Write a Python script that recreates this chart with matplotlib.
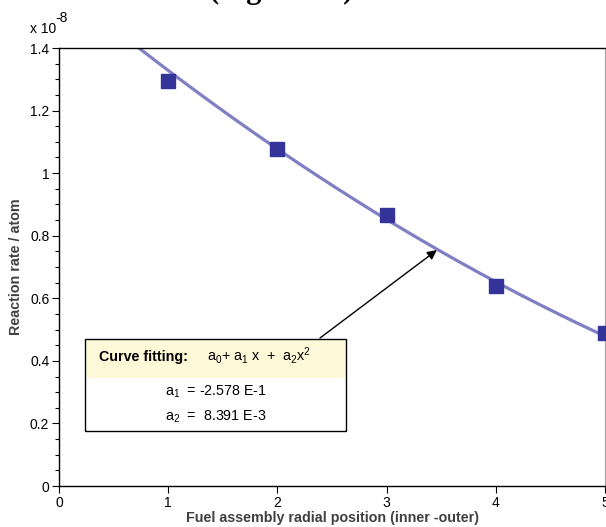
import numpy as np
import matplotlib
matplotlib.use("Agg")
import matplotlib.pyplot as plt
from matplotlib.patches import Rectangle
from matplotlib.ticker import MultipleLocator

plt.rcParams['font.family'] = ['Liberation Sans', 'DejaVu Sans']
plt.rcParams['mathtext.fontset'] = 'custom'
plt.rcParams['mathtext.rm'] = 'Liberation Sans'
plt.rcParams['mathtext.it'] = 'Liberation Sans'

positions = [1, 2, 3, 4, 5]
rates = [1.296, 1.078, 0.866, 0.638, 0.489]
# fitted curve coefficients (a0, a1, a2) as drawn in the chart
fit_coeffs = [1.605, -0.2897, 0.0129]
x_ticks = [0, 1, 2, 3, 4, 5]
y_ticks = [0, 0.2, 0.4, 0.6, 0.8, 1.0, 1.2, 1.4]
y_tick_labels = ['0', '0.2', '0.4', '0.6', '0.8', '1', '1.2', '1.4']
a1_text = "-2.578 E-1"
a2_text = "8.391 E-3"

W, H = 606, 527
fig = plt.figure(figsize=(W / 100, H / 100), dpi=100)
L, R, T, B = 59, 605, 48, 486
ax = fig.add_axes([L / W, 1 - B / H, (R - L) / W, (B - T) / H])

xs = np.linspace(0, 5, 300)
ys = fit_coeffs[0] + fit_coeffs[1] * xs + fit_coeffs[2] * xs ** 2
ax.plot(xs, ys, color='#7f7fc4', lw=2.3, zorder=2)
ax.plot(positions, rates, 's', color='#333399', ms=10, zorder=3, clip_on=False)

ax.set_xlim(0, 5)
ax.set_ylim(0, 1.4)
ax.set_xticks(x_ticks)
ax.set_yticks(y_ticks)
ax.set_yticklabels(y_tick_labels)
ax.yaxis.set_minor_locator(MultipleLocator(0.05))
ax.tick_params(axis='both', which='major', direction='out', length=5, width=0.8,
               labelsize=10, pad=2)
ax.tick_params(axis='y', which='minor', direction='out', length=3, width=0.8)
ax.spines['right'].set_color('#a0a0a0')
for s in ['left', 'bottom', 'top']:
    ax.spines[s].set_linewidth(1.0)
    ax.spines[s].set_color('black')

ax.set_xlabel('Fuel assembly radial position (inner -outer)', fontsize=10.3,
              fontweight='bold', color='#404040', labelpad=1)
ax.set_ylabel('Reaction rate / atom', fontsize=10.3, fontweight='bold',
              color='#404040', labelpad=5)

fig.text(30 / W, 1 - 33 / H, 'x 10', fontsize=10, ha='left', va='baseline')
fig.text(55 / W, 1 - 22 / H, '-8', fontsize=10, ha='left', va='baseline')

# Title, mostly cut off at the top
fig.text(281 / W, 1 + 2 / H, '(Figure 10)', fontsize=22, fontweight='bold',
         family='Liberation Serif', ha='center', va='baseline')

# Annotation arrow
ax.annotate('', xy=(3.46, 0.754), xytext=(2.39, 0.473),
            arrowprops=dict(arrowstyle='-|>', color='black', lw=1.0,
                            mutation_scale=14, shrinkA=0, shrinkB=0), zorder=4)

# Fitting box
bx0, bx1, by0, by1, bym = 85, 346, 339, 431, 378
fig.patches.append(Rectangle((bx0 / W, 1 - bym / H), (bx1 - bx0) / W, (bym - by0) / H,
                             transform=fig.transFigure, facecolor='#fdf8d8',
                             edgecolor='none', zorder=5))
fig.patches.append(Rectangle((bx0 / W, 1 - by1 / H), (bx1 - bx0) / W, (by1 - bym) / H,
                             transform=fig.transFigure, facecolor='white',
                             edgecolor='none', zorder=5))
fig.patches.append(Rectangle((bx0 / W, 1 - by1 / H), (bx1 - bx0) / W, (by1 - by0) / H,
                             transform=fig.transFigure, facecolor='none',
                             edgecolor='black', lw=1.0, zorder=6))
fig.text(99 / W, 1 - 361 / H, 'Curve fitting:', fontsize=10.3, fontweight='bold',
         va='baseline', zorder=7)
fig.text(207 / W, 1 - 361 / H,
         r'a$_\mathregular{0}$+ a$_\mathregular{1}$ x  +  a$_\mathregular{2}$x$^\mathregular{2}$',
         fontsize=10.3, va='baseline', zorder=7)
fig.text(165 / W, 1 - 396 / H, r'a$_\mathregular{1}$  = ' + a1_text, fontsize=10.3,
         va='baseline', zorder=7)
fig.text(165 / W, 1 - 421 / H, r'a$_\mathregular{2}$  =  ' + a2_text, fontsize=10.3,
         va='baseline', zorder=7)

fig.savefig('out.png', dpi=100)
